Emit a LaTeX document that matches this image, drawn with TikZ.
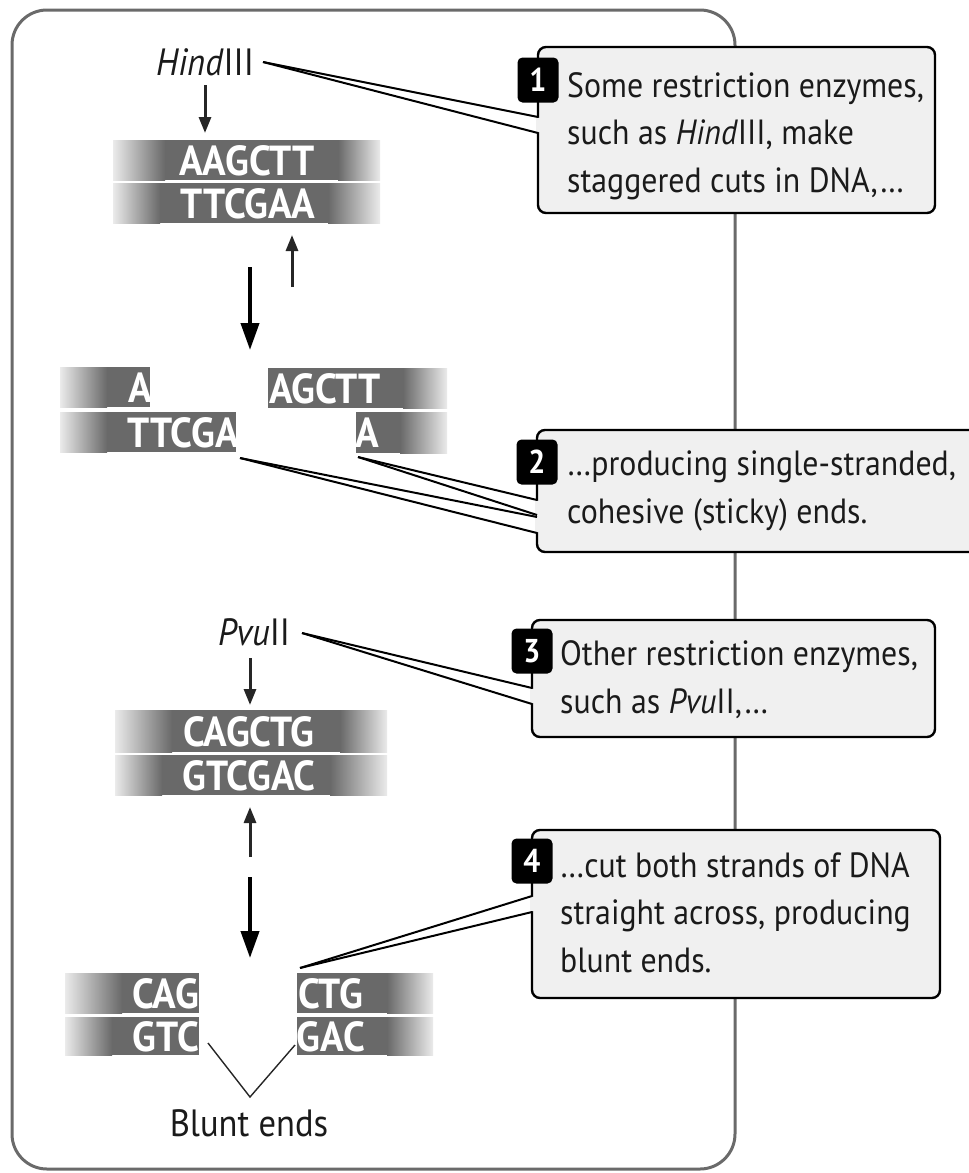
\documentclass[tikz,border=0pt]{standalone}
\usepackage{fontspec}
\setmainfont{PT Sans}
\newfontfamily\txtfont{PT Sans}[FakeStretch=0.91]
\newfontfamily\dnafont{PT Sans}[FakeStretch=0.93]
\usetikzlibrary{arrows.meta,calc}
\definecolor{dnagray}{HTML}{696969}
\definecolor{boxgray}{HTML}{F0F0F0}
\definecolor{framegray}{HTML}{6A6A6A}
\definecolor{inkgray}{HTML}{1A1A1A}
\tikzset{
  outerframe/.style={draw=framegray, line width=3pt, rounded corners=35pt},
  notebox/.style={draw=black, fill=boxgray, line width=2.4pt, rounded corners=8pt, inner sep=0pt},
  badge/.style={shape=rectangle, fill=black, rounded corners=5pt, minimum width=41pt, minimum height=45pt, inner sep=0pt,
    text=white, font=\txtfont\bfseries\fontsize{33}{33}\selectfont},
  notetext/.style={anchor=base west, align=left, inner sep=0pt, text=inkgray, font=\txtfont\fontsize{35}{47.5}\selectfont},
  enzlabel/.style={inner sep=0pt, text=inkgray, font=\txtfont\fontsize{38}{38}\selectfont},
  dnaletters/.style={inner sep=0pt, text=white, font=\dnafont\bfseries\fontsize{42}{42}\selectfont},
  leader/.style={draw=black, line width=2pt},
  wedgefill/.style={fill=white},
  smallarrow/.style={draw=black!85, line width=3pt, -{Triangle[length=16pt,width=12pt]}},
  bigarrow/.style={draw=black, line width=4pt, -{Triangle[length=27pt,width=18pt]}},
  vline/.style={draw=black!85, line width=1.4pt},
  fadeL/.style={left color=black!8, right color=dnagray},
  fadeR/.style={left color=dnagray, right color=black!8},
  darkstrand/.style={fill=dnagray}
}
\begin{document}
\begin{tikzpicture}[x=1pt,y=-1pt]
\useasboundingbox (0,0) rectangle (969,1173);
% outer frame
\draw[outerframe] (12,10) rectangle (735,1169);

% ---------- note boxes ----------
\node[notebox, minimum width=397pt, minimum height=166pt] (box1) at (736.5,130) {};
\node[notebox, minimum width=463pt, minimum height=122pt] (box2) at (768.5,491) {};
\node[notebox, minimum width=403pt, minimum height=117pt] (box3) at (733.5,678.5) {};
\node[notebox, minimum width=408pt, minimum height=168pt] (box4) at (736,914) {};

% ---------- HindIII ----------
\node[enzlabel] (hind) at (205,62.5) {\textit{Hind}III};
% intact strands
\shade[fadeL] (113,140) rectangle (165,180);
\fill[darkstrand] (165,140) rectangle (338,180);
\shade[fadeR] (338,140) rectangle (380,180);
\shade[fadeL] (113,183) rectangle (160,223);
\fill[darkstrand] (160,183) rectangle (328,223);
\shade[fadeR] (328,183) rectangle (380,223);
\node[dnaletters] (h1) at (247,161) {AAGCTT};
\node[dnaletters] (h2) at (248,204) {TTCGAA};
% cut fragments
\shade[fadeL] (60,367) rectangle (107,407);
\fill[darkstrand] (107,367) rectangle (150,407);
\shade[fadeL] (60,412) rectangle (107,452);
\fill[darkstrand] (107,412) rectangle (236,452);
\fill[darkstrand] (268,368) rectangle (403,408);
\shade[fadeR] (403,368) rectangle (447,408);
\fill[darkstrand] (356,412) rectangle (400,453);
\shade[fadeR] (400,412) rectangle (447,453);
\node[dnaletters] (hf1) at (140,388) {A};
\node[dnaletters] (hf2) at (183,433) {TTCGA};
\node[dnaletters] (hf3) at (325,389) {AGCTT};
\node[dnaletters] (hf4) at (367,433) {A};

% arrows HindIII
\coordinate (ha0) at (205,85);
\coordinate (ha1) at (205,133);
\coordinate (hu0) at (292,287);
\coordinate (hu1) at (292,235);
\coordinate (hb0) at (250,267);
\coordinate (hb1) at (250,350);
\draw[smallarrow] (ha0) -- (ha1);
\draw[smallarrow] (hu0) -- (hu1);
\draw[bigarrow] (hb0) -- (hb1);

% ---------- PvuII ----------
\node[enzlabel] (pvu) at (254,632) {\textit{Pvu}II};
\shade[fadeL] (115,710) rectangle (172,752);
\fill[darkstrand] (172,710) rectangle (340,752);
\shade[fadeR] (340,710) rectangle (387,752);
\shade[fadeL] (115,755) rectangle (162,795);
\fill[darkstrand] (162,755) rectangle (330,795);
\shade[fadeR] (330,755) rectangle (387,795);
\node[dnaletters] (p1) at (249,732) {CAGCTG};
\node[dnaletters] (p2) at (249,776) {GTCGAC};
% blunt fragments
\shade[fadeL] (65,973) rectangle (122,1013);
\fill[darkstrand] (122,973) rectangle (199,1013);
\shade[fadeL] (65,1017) rectangle (112,1055);
\fill[darkstrand] (112,1017) rectangle (199,1055);
\fill[darkstrand] (297,973) rectangle (387,1013);
\shade[fadeR] (387,973) rectangle (433,1013);
\fill[darkstrand] (297,1017) rectangle (387,1055);
\shade[fadeR] (387,1017) rectangle (433,1055);
\node[dnaletters] (pf1) at (166,994) {CAG};
\node[dnaletters] (pf2) at (166,1037) {GTC};
\node[dnaletters] (pf3) at (331,994) {CTG};
\node[dnaletters] (pf4) at (331,1037) {GAC};

\coordinate (pa0) at (250,658);
\coordinate (pa1) at (250,705);
\coordinate (pu0) at (250,857);
\coordinate (pu1) at (250,807);
\coordinate (pb0) at (250,877);
\coordinate (pb1) at (250,958);
\draw[smallarrow] (pa0) -- (pa1);
\draw[smallarrow] (pu0) -- (pu1);
\draw[bigarrow] (pb0) -- (pb1);

% blunt ends label
\node[enzlabel] (blunt) at (249,1123.5) {Blunt ends};
\coordinate (v1) at (208,1043);
\coordinate (vb) at (250,1097);
\coordinate (v2) at (295,1045);
\draw[vline] (v1) -- (vb) -- (v2);

% ---------- leader wedges ----------
\coordinate (t1) at (263,62);
\coordinate (e1a) at (538,117);
\coordinate (e1b) at (538,133);
\coordinate (t2a) at (240,458);
\coordinate (e2a) at (537,517);
\coordinate (e2b) at (537,533);
\coordinate (t2b) at (358,457);
\coordinate (e2c) at (537,500);
\coordinate (e2d) at (537,515);
\coordinate (t3) at (302,633);
\coordinate (e3a) at (532,688);
\coordinate (e3b) at (532,704);
\coordinate (t4) at (300,968);
\coordinate (e4a) at (532,896);
\coordinate (e4b) at (532,912);

\foreach \t/\a/\b in {t1/e1a/e1b, t2a/e2a/e2b, t2b/e2c/e2d, t3/e3a/e3b, t4/e4a/e4b}{
  \fill[wedgefill] (\t) -- (\a) -- (\b) -- cycle;
  \fill[boxgray] ($(\a)+(-1.6,1)$) rectangle ($(\b)+(1.6,-1)$);
}
\fill[boxgray] ($(e2c)+(-1.6,1)$) rectangle ($(e2b)+(1.6,-1)$);
\foreach \t/\a/\b in {t1/e1a/e1b, t2a/e2a/e2b, t2b/e2c/e2d, t3/e3a/e3b, t4/e4a/e4b}{
  \draw[leader] (\t) -- (\a);
  \draw[leader] (\t) -- (\b);
}

% ---------- badges ----------
\node[badge] (n1) at (538,80) {1};
\node[badge] (n2) at (537,462) {2};
\node[badge] (n3) at (532,651) {3};
\node[badge] (n4) at (532,861) {4};

% ---------- note texts (anchored at the last line's baseline) ----------
\node[notetext] (txt1) at (567,192) {Some restriction enzymes,\\such as \textit{Hind}III, make\\staggered cuts in DNA,…};
\node[notetext] (txt2) at (567,523) {…producing single-stranded,\\cohesive (sticky) ends.};
\node[notetext] (txt3) at (560,713) {Other restriction enzymes,\\such as \textit{Pvu}II,…};
\node[notetext] (txt4) at (560,972) {…cut both strands of DNA\\straight across, producing\\blunt ends.};
\end{tikzpicture}
\end{document}
